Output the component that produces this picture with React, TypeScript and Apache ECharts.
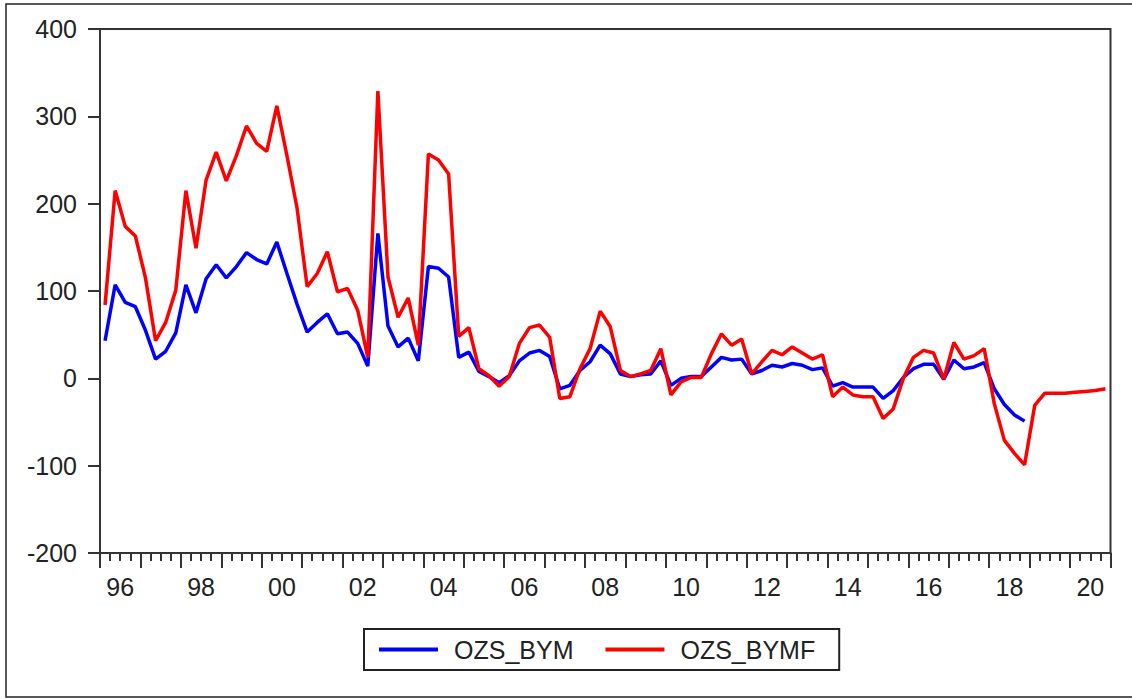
import React, { useEffect, useRef } from "react";
import * as echarts from "echarts";

const YEARS = [
  "96", "97", "98", "99", "00", "01", "02", "03", "04", "05", "06", "07", "08",
  "09", "10", "11", "12", "13", "14", "15", "16", "17", "18", "19", "20",
];
const QUARTER_SUFFIX = ["Q1", "Q2", "Q3", "Q4"];
const QUARTERS = YEARS.flatMap((y) => QUARTER_SUFFIX.map((q) => y + q));

const OZS_BYM: (number | null)[] = [
  43, 107, 87, 82, 55, 22, 31, 52, 107, 75, 114, 130, 115, 128, 144, 136,
  131, 156, 120, 85, 53, 64, 74, 51, 53, 40, 14, 166, 60, 36, 46, 20,
  128, 126, 116, 24, 30, 8, 2, -5, 3, 20, 29, 32, 25, -12, -8, 9,
  19, 38, 28, 5, 2, 4, 5, 20, -8, 0, 2, 2, 13, 24, 21, 22,
  5, 9, 15, 13, 17, 15, 10, 12, -9, -5, -10, -10, -10, -23, -14, 1,
  11, 16, 16, -1, 21, 11, 13, 18, -12, -30, -42, -49,
  null, null, null, null, null, null, null, null,
];

const OZS_BYMF: number[] = [
  84, 215, 174, 163, 115, 43, 64, 101, 215, 149, 227, 259, 226, 255, 289, 269,
  260, 312, 255, 195, 105, 120, 145, 99, 103, 78, 24, 329, 116, 70, 92, 38,
  257, 250, 234, 48, 58, 11, 3, -9, 2, 40, 58, 61, 47, -23, -21, 11,
  34, 77, 59, 9, 2, 5, 9, 34, -19, -4, 1, 1, 28, 51, 38, 45,
  5, 19, 32, 27, 36, 29, 22, 27, -21, -10, -19, -21, -21, -46, -35, 0,
  24, 32, 29, -1, 41, 22, 26, 34, -29, -71, -86, -99,
  -31, -17, -17, -17, -16, -15, -14, -12,
];

const Y_MIN = -200;
const Y_MAX = 400;
const Y_STEP = 100;

const AXIS_COLOR = "#333333";
const TEXT_COLOR = "#222222";
const FONT = "'Liberation Sans', Arial, sans-serif";

export default function App() {
  const ref = useRef<HTMLDivElement>(null);

  useEffect(() => {
    document.body.style.margin = "0";
    if (!ref.current) return;
    const chart = echarts.init(ref.current, null, { renderer: "svg" });
    chart.setOption({
      animation: false,
      backgroundColor: "#ffffff",
      textStyle: { fontFamily: FONT },
      grid: {
        left: 100,
        right: 21.5,
        top: 29,
        bottom: 146,
        show: true,
        borderColor: AXIS_COLOR,
        borderWidth: 2,
        backgroundColor: "transparent",
      },
      xAxis: [
        {
          type: "category",
          data: QUARTERS,
          position: "bottom",
          boundaryGap: true,
          axisLine: {
            show: true,
            onZero: false,
            lineStyle: { color: AXIS_COLOR, width: 2 },
          },
          axisTick: {
            show: true,
            interval: 0,
            length: 8,
            lineStyle: { color: AXIS_COLOR, width: 2 },
          },
          axisLabel: { show: false },
          splitLine: { show: false },
        },
        {
          type: "category",
          data: YEARS,
          position: "bottom",
          boundaryGap: true,
          axisLine: { show: false, onZero: false },
          axisTick: {
            show: true,
            interval: 0,
            length: 15,
            lineStyle: { color: AXIS_COLOR, width: 2 },
          },
          axisLabel: {
            show: true,
            interval: 1,
            margin: 21,
            fontSize: 25,
            color: TEXT_COLOR,
            fontFamily: FONT,
          },
          splitLine: { show: false },
        },
      ],
      yAxis: {
        type: "value",
        min: Y_MIN,
        max: Y_MAX,
        interval: Y_STEP,
        axisLine: { show: true, lineStyle: { color: AXIS_COLOR, width: 2 } },
        axisTick: {
          show: true,
          length: 12,
          lineStyle: { color: AXIS_COLOR, width: 2 },
        },
        axisLabel: {
          margin: 23,
          fontSize: 25,
          color: TEXT_COLOR,
          fontFamily: FONT,
          padding: [0, 0, 7, 0],
        },
        splitLine: { show: false },
      },
      legend: {
        show: true,
        left: 364,
        top: 629,
        orient: "horizontal",
        icon: "rect",
        itemWidth: 59,
        itemHeight: 4,
        itemGap: 32,
        padding: [8, 24, 8, 15],
        borderColor: "#222222",
        borderWidth: 2,
        textStyle: {
          fontSize: 25,
          color: TEXT_COLOR,
          fontFamily: FONT,
          padding: [0, 0, 0, 11],
        },
        data: ["OZS_BYM", "OZS_BYMF"],
      },
      graphic: [
        {
          type: "rect",
          silent: true,
          shape: { x: 6, y: 4, width: 1140, height: 693 },
          style: { fill: "none", stroke: "#222222", lineWidth: 1.5 },
        },
      ],
      series: [
        {
          name: "OZS_BYM",
          type: "line",
          xAxisIndex: 0,
          data: OZS_BYM,
          symbol: "none",
          connectNulls: false,
          lineStyle: { color: "#0000ff", width: 3.5 },
          itemStyle: { color: "#0000ff" },
        },
        {
          name: "OZS_BYMF",
          type: "line",
          xAxisIndex: 0,
          data: OZS_BYMF,
          symbol: "none",
          lineStyle: { color: "#ff0000", width: 3.5 },
          itemStyle: { color: "#ff0000" },
        },
      ],
    });
    return () => chart.dispose();
  }, []);

  return <div ref={ref} style={{ width: 1132, height: 699 }} />;
}
